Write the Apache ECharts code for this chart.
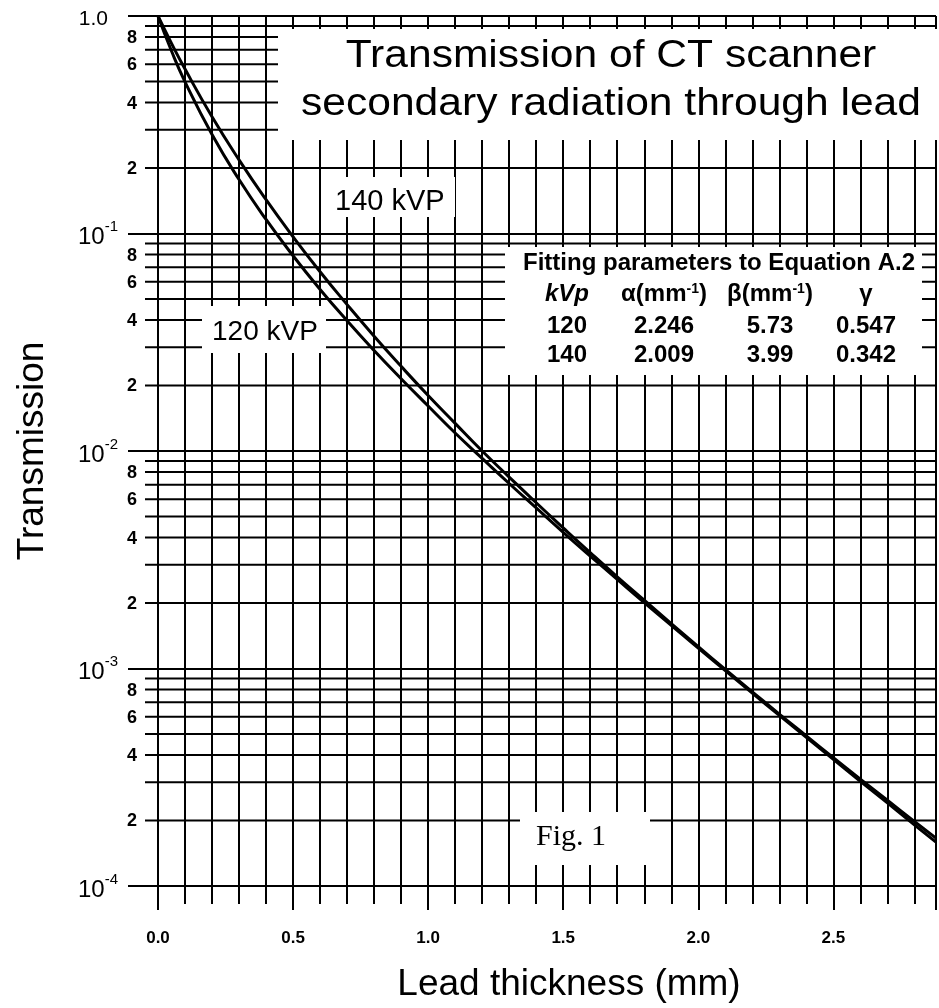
<!DOCTYPE html>
<html>
<head>
<meta charset="utf-8">
<script src="https://cdn.jsdelivr.net/npm/echarts@6/dist/echarts.min.js"></script>
<style>
  html, body { margin: 0; padding: 0; background: #fff; }
  #chart { width: 939px; height: 1008px; }
</style>
</head>
<body>
<div id="chart"></div>
<script>
// lead thickness (mm) and transmission
const thickness = [0, 0.05, 0.1, 0.2, 0.3, 0.4, 0.5, 0.6, 0.7, 0.8, 0.9, 1.0, 1.1, 1.2, 1.3, 1.4, 1.5, 1.6, 1.7, 1.8, 1.9, 2.0, 2.1, 2.2, 2.3, 2.4, 2.5, 2.6, 2.7, 2.8, 2.88];
const trans120 = [1.0, 0.69, 0.498, 0.285, 0.177, 0.116, 0.079, 0.0553, 0.0397, 0.029, 0.0215, 0.0161, 0.0121, 0.00925, 0.00709, 0.00547, 0.00423, 0.00329, 0.00257, 0.00201, 0.00158, 0.00124, 0.000978, 0.000771, 0.000609, 0.000482, 0.000382, 0.000303, 0.000241, 0.000191, 0.000159];
const trans140 = [1.0, 0.748, 0.57, 0.344, 0.218, 0.143, 0.0966, 0.0667, 0.0471, 0.0337, 0.0245, 0.018, 0.0134, 0.01, 0.00759, 0.00578, 0.00443, 0.00341, 0.00264, 0.00206, 0.00161, 0.00126, 0.00099, 0.000781, 0.000617, 0.00049, 0.000389, 0.00031, 0.000248, 0.000198, 0.000166];

// log grid: decades plus 2..9 minor lines, only some of them labelled
const decadeStarts = [1e-4, 1e-3, 1e-2, 1e-1];
const minorSteps = [2, 3, 4, 5, 6, 7, 8, 9];
const minorLabelled = [2, 4, 6, 8];

// fitting-parameter table
const fitHeader = ['kVp', 'α(mm{s|-1})', 'β(mm{s|-1})', 'γ'];
const fitRows = [
  ['120', '2.246', '5.73', '0.547'],
  ['140', '2.009', '3.99', '0.342'],
];

const INK = '#000';
const SANS = '"Liberation Sans", Arial, Helvetica, sans-serif';
const SERIF = '"Liberation Serif", "Times New Roman", serif';

const minorGrid = [];
decadeStarts.forEach((d) => {
  minorSteps.forEach((m) => {
    minorGrid.push({ value: m * d, label: minorLabelled.includes(m) ? String(m) : '' });
  });
});

const chart = echarts.init(document.getElementById('chart'), null, { renderer: 'canvas' });

// white boxes that knock the grid out behind the annotations
const box = (x, y, w, h) => ({
  type: 'rect', z: 5, silent: true,
  shape: { x, y, width: w, height: h },
  style: { fill: '#fff' },
});
const txt = (text, x, y, font, align, extra) => ({
  type: 'text', z: 6, silent: true, x, y,
  style: Object.assign({
    text, font, fill: INK,
    align: align || 'left', textAlign: align || 'left',
    verticalAlign: 'middle', textVerticalAlign: 'middle',
  }, extra || {}),
});

const tableCols = [567, 664, 770, 866];
const tableFont = 'bold 24px ' + SANS;
const supRich = { s: { fontSize: 14, fontWeight: 'bold', verticalAlign: 'top', lineHeight: 13, fontFamily: SANS, fill: INK } };

const graphics = [
  box(278, 29, 661, 111),
  Object.assign(txt('Transmission of CT scanner', 0, 0, '38px ' + SANS, 'center'), { x: 611, y: 57, scaleX: 1.12 }),
  Object.assign(txt('secondary radiation through lead', 0, 0, '38px ' + SANS, 'center'), { x: 611, y: 105, scaleX: 1.12 }),

  box(327, 177, 128, 40),
  txt('140 kVP', 335, 202, '29px ' + SANS),

  box(202, 306, 124, 47),
  txt('120 kVP', 212, 332, '28px ' + SANS),

  box(505, 247, 417, 128),
  txt('Fitting parameters to Equation A.2', 523, 263, tableFont),

  box(520, 812, 130, 53),
  txt('Fig. 1', 536, 837, '30px ' + SERIF),
];
fitHeader.forEach((h, i) => {
  graphics.push(txt(h, tableCols[i], 294, (i === 0 ? 'italic ' : '') + tableFont, 'center', { rich: supRich }));
});
fitRows.forEach((row, r) => {
  row.forEach((cell, i) => {
    graphics.push(txt(cell, tableCols[i], 326 + r * 29, tableFont, 'center'));
  });
});

const yLabel = (v) => {
  const e = Math.round(Math.log10(v));
  if (e === 0) return '{one|1.0}';
  return '{base|10}{sup|' + e + '}';
};

chart.setOption({
  backgroundColor: '#fff',
  animation: false,
  grid: { left: 158, right: 0, top: 16, bottom: 119 },
  xAxis: [
    {
      type: 'value', position: 'bottom', min: 0, max: 2.88, interval: 0.1,
      axisLine: { show: false },
      axisTick: { show: true, length: 18, lineStyle: { color: INK, width: 2 } },
      axisLabel: { show: false },
      splitLine: { show: true, lineStyle: { color: INK, width: 2 } },
    },
    {
      type: 'value', position: 'bottom', min: 0, max: 2.88, interval: 0.5,
      axisLine: { show: false },
      axisTick: { show: true, length: 24, lineStyle: { color: INK, width: 2 } },
      splitLine: { show: false },
      axisLabel: {
        margin: 44, color: INK, fontFamily: SANS, fontWeight: 'bold', fontSize: 17,
        formatter: (v) => (Math.abs(v * 2 - Math.round(v * 2)) < 1e-6 ? v.toFixed(1) : ''),
      },
      name: 'Lead thickness (mm)', nameLocation: 'middle', nameGap: 80,
      nameTextStyle: { color: INK, fontFamily: SANS, fontSize: 37, padding: [0, 0, 0, 44] },
    },
  ],
  yAxis: {
    type: 'log', logBase: 10, min: 1e-4, max: 1,
    axisLine: { show: false },
    axisTick: { show: true, length: 30, lineStyle: { color: INK, width: 2 } },
    splitLine: { show: true, lineStyle: { color: INK, width: 2 } },
    axisLabel: {
      margin: 40, color: INK,
      formatter: yLabel,
      rich: {
        one: { fontSize: 21, fontFamily: SANS, color: INK, padding: [7, 10, 0, 0] },
        base: { fontSize: 24, fontFamily: SANS, color: INK, lineHeight: 28, padding: [8, 0, 0, 0] },
        sup: { fontSize: 15, fontFamily: SANS, color: INK, lineHeight: 14, verticalAlign: 'top' },
      },
    },
    name: 'Transmission', nameLocation: 'middle', nameGap: 107,
    nameTextStyle: { color: INK, fontFamily: SANS, fontSize: 37 },
  },
  graphic: { elements: graphics },
  series: [
    {
      // minor log grid lines (2..9 of each decade) with their short labels
      type: 'custom', z: 1, clip: false, silent: true,
      data: minorGrid.map((g) => [0, g.value]),
      renderItem: (params, api) => {
        const p = api.coord([0, api.value(1)]);
        const right = params.coordSys.x + params.coordSys.width;
        const g = minorGrid[params.dataIndex];
        const children = [{
          type: 'line',
          shape: { x1: p[0] - 13, y1: p[1], x2: right, y2: p[1] },
          style: { stroke: INK, lineWidth: 2 },
        }];
        if (g.label) {
          children.push({
            type: 'text',
            style: {
              text: g.label, x: p[0] - 21, y: p[1] + 1, align: 'right', verticalAlign: 'middle',
              fill: INK, font: 'bold 18px ' + SANS,
            },
          });
        }
        return { type: 'group', children };
      },
    },
    {
      name: '120 kVp', type: 'line', z: 10, smooth: true, showSymbol: false,
      data: thickness.map((x, i) => [x, trans120[i]]),
      lineStyle: { color: INK, width: 3 },
    },
    {
      name: '140 kVp', type: 'line', z: 10, smooth: true, showSymbol: false,
      data: thickness.map((x, i) => [x, trans140[i]]),
      lineStyle: { color: INK, width: 3 },
    },
  ],
});
</script>
</body>
</html>
